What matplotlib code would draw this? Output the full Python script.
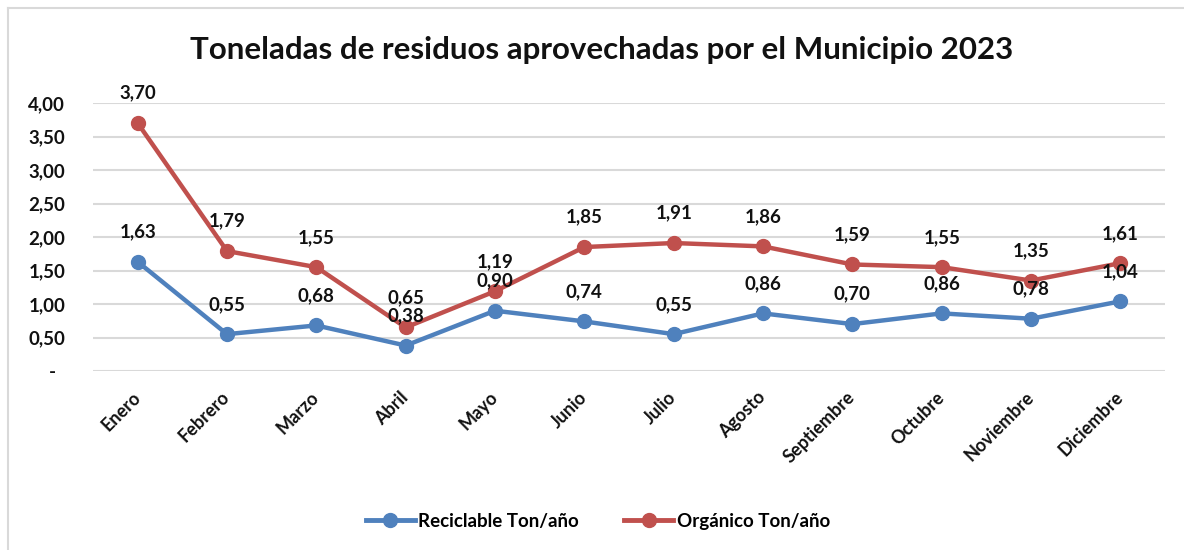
import matplotlib
matplotlib.use("Agg")
import matplotlib.pyplot as plt
from matplotlib.lines import Line2D

months = ["Enero", "Febrero", "Marzo", "Abril", "Mayo", "Junio", "Julio",
          "Agosto", "Septiembre", "Octubre", "Noviembre", "Diciembre"]
reciclable = [1.63, 0.55, 0.68, 0.38, 0.90, 0.74, 0.55, 0.86, 0.70, 0.86, 0.78, 1.04]
organico = [3.70, 1.79, 1.55, 0.65, 1.19, 1.85, 1.91, 1.86, 1.59, 1.55, 1.35, 1.61]
series_names = ["Reciclable Ton/año", "Orgánico Ton/año"]
title = "Toneladas de residuos aprovechadas por el Municipio 2023"
yticks = [0, 0.5, 1.0, 1.5, 2.0, 2.5, 3.0, 3.5, 4.0]

BLUE = "#4F81BD"
RED = "#C0504D"
FONT = ["Lato", "DejaVu Sans"]
plt.rcParams["font.family"] = FONT
plt.rcParams["font.weight"] = "bold"

W, H = 1184, 550
fig = plt.figure(figsize=(W / 100, H / 100), dpi=100)
ax = fig.add_axes([93 / W, 1 - 371 / H, (1165 - 93) / W, (371 - 103) / H])

x = list(range(len(months)))
ax.plot(x, reciclable, color=BLUE, lw=3.2, marker="o", ms=10, zorder=3, solid_capstyle="round")
ax.plot(x, organico, color=RED, lw=3.2, marker="o", ms=10, zorder=3, solid_capstyle="round")

def fmt(v):
    return f"{v:.2f}".replace(".", ",")

for xs, ys in ((x, reciclable), (x, organico)):
    for xi, yi in zip(xs, ys):
        ax.annotate(fmt(yi), (xi, yi), xytext=(0, 21.5), textcoords="offset points",
                    ha="center", va="center", fontsize=13.5, fontweight="bold",
                    color="#111111", zorder=5, annotation_clip=False)

ax.set_xlim(-0.5, 11.5)
ax.set_ylim(0, 4)
ax.set_yticks(yticks)
ax.set_yticklabels(["-  " if v == 0 else fmt(v) for v in yticks],
                   fontsize=13.5, fontweight="bold", color="#111111")
ax.set_xticks(x)
ax.set_xticklabels(months, rotation=45, ha="right", va="center",
                   rotation_mode="anchor", fontsize=13, fontweight="bold", color="#111111")
ax.tick_params(axis="both", length=0)
ax.tick_params(axis="y", pad=20)
ax.tick_params(axis="x", pad=17)
for s in ax.spines.values():
    s.set_visible(False)
ax.grid(axis="y", color="#d9d9d9", lw=1.5, zorder=0)
ax.set_axisbelow(True)

fig.text(602 / W, 1 - 50 / H, title, ha="center", va="center",
         fontsize=22.5, fontweight="bold", color="#111111")

handles = [Line2D([0], [0], color=BLUE, lw=3.5, marker="o", ms=10),
           Line2D([0], [0], color=RED, lw=3.5, marker="o", ms=10)]
fig.legend(handles, series_names, loc="center", bbox_to_anchor=(0.505, 1 - 521 / H),
           ncol=2, frameon=False, prop={"family": FONT, "weight": "bold", "size": 13.5},
           handlelength=2.6, handletextpad=0.2, columnspacing=2.4)

# chart border (top and left visible)
fig.add_artist(Line2D([8 / W, 1], [1 - 8 / H, 1 - 8 / H], color="#d9d9d9", lw=1.5,
                      transform=fig.transFigure))
fig.add_artist(Line2D([8 / W, 8 / W], [0, 1 - 8 / H], color="#d9d9d9", lw=1.5,
                      transform=fig.transFigure))

fig.savefig("out.png", dpi=100)
